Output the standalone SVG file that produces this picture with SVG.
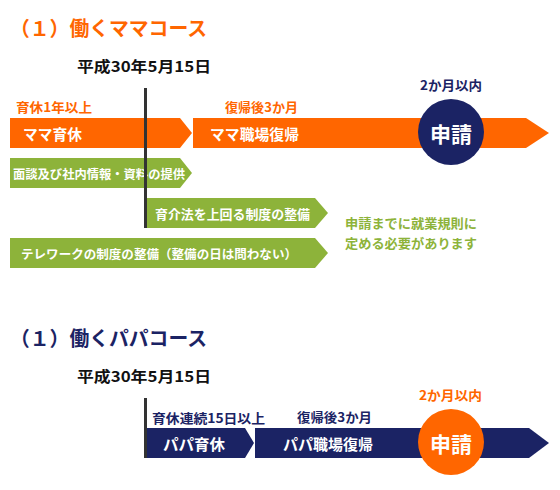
<svg xmlns="http://www.w3.org/2000/svg" width="560" height="490" viewBox="0 0 560 490">
<style>
text{font-family:"Noto Sans CJK JP","Noto Sans",sans-serif;font-weight:700;dominant-baseline:central}
.or{fill:#ff6600}.nv{fill:#1b2364}.gr{fill:#8db33a}.wt{fill:#ffffff}.bk{fill:#111111}
.vline{stroke:#333333;stroke-width:3}
</style>
<rect width="560" height="490" fill="#ffffff"/>
<g id="title-mama"><text class="or" x="10" y="27" font-size="20" font-weight="500" textLength="197" lengthAdjust="spacingAndGlyphs">（１）働くママコース</text></g>
<g id="date-mama"><text class="bk" x="77" y="65" font-size="15" font-weight="500" textLength="134" lengthAdjust="spacingAndGlyphs">平成30年5月15日</text></g>
<g id="label-ikukyu1"><text class="or" x="16" y="106" font-size="13" textLength="76" lengthAdjust="spacingAndGlyphs">育休1年以上</text></g>
<g id="label-fukki-mama"><text class="or" x="225" y="106" font-size="13" textLength="73" lengthAdjust="spacingAndGlyphs">復帰後3か月</text></g>
<g id="bar-mama-ikukyu"><polygon class="or" points="10,118 180,118 192,133 180,148 10,148"/><text class="wt" x="23" y="133" font-size="15" textLength="59" lengthAdjust="spacingAndGlyphs">ママ育休</text></g>
<g id="bar-mama-fukki"><polygon class="or" points="193,118 526,118 549,133 526,148 193,148"/><text class="wt" x="210" y="133" font-size="15" textLength="89" lengthAdjust="spacingAndGlyphs">ママ職場復帰</text></g>
<g id="label-2kagetsu-mama"><text class="nv" x="420" y="84" font-size="13" textLength="62" lengthAdjust="spacingAndGlyphs">2か月以内</text></g>
<g id="circle-mama"><circle class="nv" cx="451" cy="132" r="33"/><text class="wt" x="451" y="133" font-size="21" text-anchor="middle">申請</text></g>
<g id="bar-mendan"><polygon class="gr" points="10,158 180,158 192,173 180,188 10,188"/><text class="wt" x="13" y="173" font-size="12.5" textLength="172" lengthAdjust="spacingAndGlyphs">面談及び社内情報・資料の提供</text></g>
<g id="bar-ikukaiho"><polygon class="gr" points="147,198 315,198 328,213 315,228 147,228"/><text class="wt" x="155" y="213" font-size="13" textLength="155" lengthAdjust="spacingAndGlyphs">育介法を上回る制度の整備</text></g>
<g id="bar-telework"><polygon class="gr" points="10,238 315,238 328,253 315,268 10,268"/><text class="wt" x="21" y="253" font-size="12.5" textLength="276" lengthAdjust="spacingAndGlyphs">テレワークの制度の整備（整備の日は問わない）</text></g>
<g id="note"><text class="gr" x="345" y="222" font-size="13" textLength="132" lengthAdjust="spacingAndGlyphs">申請までに就業規則に</text><text class="gr" x="345" y="242" font-size="13" textLength="132" lengthAdjust="spacingAndGlyphs">定める必要があります</text></g>
<g id="title-papa"><text class="nv" x="10" y="337" font-size="20" font-weight="500" textLength="197" lengthAdjust="spacingAndGlyphs">（１）働くパパコース</text></g>
<g id="date-papa"><text class="bk" x="77" y="375" font-size="15" font-weight="500" textLength="134" lengthAdjust="spacingAndGlyphs">平成30年5月15日</text></g>
<g id="label-ikukyu-papa"><text class="nv" x="152" y="417" font-size="13" textLength="113" lengthAdjust="spacingAndGlyphs">育休連続15日以上</text></g>
<g id="label-fukki-papa"><text class="nv" x="297" y="416" font-size="13" textLength="75" lengthAdjust="spacingAndGlyphs">復帰後3か月</text></g>
<g id="bar-papa-ikukyu"><polygon class="nv" points="147,428 245,428 254,443 245,458 147,458"/><text class="wt" x="163" y="443" font-size="15" textLength="62" lengthAdjust="spacingAndGlyphs">パパ育休</text></g>
<g id="bar-papa-fukki"><polygon class="nv" points="255,428 529,428 549,443 529,458 255,458"/><text class="wt" x="283" y="443" font-size="15" textLength="90" lengthAdjust="spacingAndGlyphs">パパ職場復帰</text></g>
<g id="label-2kagetsu-papa"><text class="or" x="419" y="394" font-size="13" textLength="63" lengthAdjust="spacingAndGlyphs">2か月以内</text></g>
<g id="circle-papa"><circle class="or" cx="451" cy="442" r="33"/><text class="wt" x="451" y="443" font-size="21" text-anchor="middle">申請</text></g>
<g id="connectors">
<line class="vline" x1="145.5" y1="88" x2="145.5" y2="228"/>
<line class="vline" x1="145.5" y1="398" x2="145.5" y2="458"/>
</g>
</svg>
